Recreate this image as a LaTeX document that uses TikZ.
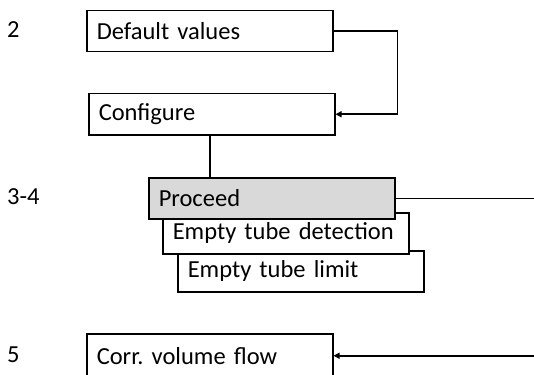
\documentclass[tikz,border=0pt]{standalone}
\usepackage{fontspec}
\setmainfont[WordSpace=0.75]{Carlito}
\frenchspacing
\usetikzlibrary{arrows.meta, positioning, calc}
\definecolor{boxline}{RGB}{0, 0, 0}
\definecolor{activefill}{RGB}{217, 217, 217}
\tikzset{
  font=\fontsize{24.5}{29}\selectfont,
  menublock/.style={
    rectangle, draw=boxline, fill=white, line width=1.5pt,
    minimum height=41pt, text width=226pt, inner xsep=10pt,
    inner ysep=0pt, align=left, anchor=north west
  },
  activeblock/.style={menublock, fill=activefill},
  steplabel/.style={anchor=west, inner sep=0pt},
  flowline/.style={
    draw=boxline, line width=1.5pt, -{Triangle[length=6pt, width=6pt]}
  },
  plainline/.style={draw=boxline, line width=1.5pt}
}
\begin{document}
\begin{tikzpicture}[x=1pt, y=-1pt]
  \useasboundingbox (0,0) rectangle (534,374);

  % step numbers
  \node[steplabel] (lbl_two) at (7,30) {2};
  \node[steplabel] (lbl_three) at (7,197) {3-4};
  \node[steplabel] (lbl_five) at (7,355) {5};

  % menu boxes
  \node[menublock] (defaults) at (86,10) {Default values};
  \node[menublock] (configure) at (88,93) {Configure};
  \node[menublock] (tube_limit) at (177,250) {Empty tube limit};
  \node[menublock] (tube_detect) at (162,212) {Empty tube detection};
  \node[activeblock] (proceed) at (148,177) {Proceed};
  \node[menublock, minimum height=44pt] (corr_flow) at (86,333) {Corr. volume flow};

  \coordinate (loop_turn) at ($(configure.east)+(62,0)$);
  \coordinate (right_edge) at (534,0);

  \draw[flowline] (defaults.east) -| (loop_turn) -- (configure.east);
  \draw[plainline] (configure.south -| 210,0) -- (proceed.north -| 210,0);
  \draw[plainline] (proceed.east) -- (proceed.east -| right_edge);
  \draw[flowline] (corr_flow.east -| right_edge) -- (corr_flow.east);
\end{tikzpicture}
\end{document}
